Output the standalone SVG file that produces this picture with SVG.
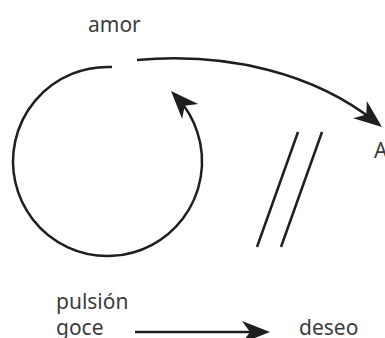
<svg xmlns="http://www.w3.org/2000/svg" width="385" height="338" viewBox="0 0 385 338">
  <style>
    .lbl { font-family: "Noto Sans", "Open Sans", sans-serif; font-size: 21px; fill: #3c3c3c; }
    .ln { fill: none; stroke: #1e1e1e; stroke-width: 2.5; }
  </style>
  <defs>
    <marker id="head" markerUnits="userSpaceOnUse" viewBox="-32 -14 38 28" markerWidth="38" markerHeight="28" refX="-8" refY="0" orient="auto" overflow="visible">
      <path d="M0,0 L-28,-11 L-20,0 L-28,11 Z" fill="#1e1e1e"/>
    </marker>
  </defs>
  <rect width="385" height="338" fill="#ffffff"/>
  <g id="node-amor"><text class="lbl" x="88" y="32">amor</text></g>
  <g id="node-A"><text class="lbl" x="374" y="158">A</text></g>
  <g id="node-pulsion"><text class="lbl" x="56" y="309">pulsión</text></g>
  <g id="node-goce"><text class="lbl" x="56" y="335">goce</text></g>
  <g id="node-deseo"><text class="lbl" x="299" y="335">deseo</text></g>
  <g id="node-bar">
    <line class="ln" x1="298" y1="132" x2="257" y2="247" stroke-width="2"/>
    <line class="ln" x1="322" y1="132" x2="281" y2="247" stroke-width="2"/>
  </g>
  <g id="connectors">
    <path class="ln" d="M112,67.1 A94.5,94.5 0 1 0 176.5,96.9" marker-end="url(#head)"/>
    <path class="ln" d="M137,60 C230,52 315,74 375.7,122" marker-end="url(#head)"/>
    <path class="ln" d="M135,332 L262,332" stroke-width="3" marker-end="url(#head)"/>
  </g>
</svg>
